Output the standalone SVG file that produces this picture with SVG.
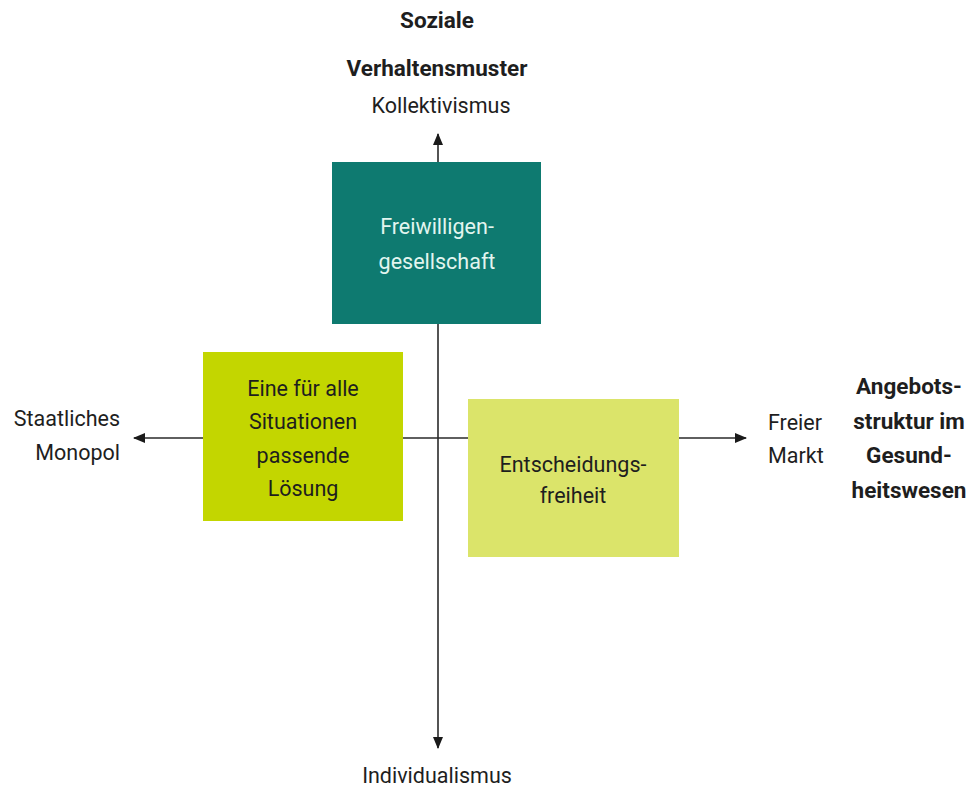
<svg xmlns="http://www.w3.org/2000/svg" width="967" height="787" viewBox="0 0 967 787">
<defs>
<marker id="ah" viewBox="0 0 12 10" refX="11" refY="5" markerWidth="12" markerHeight="10" markerUnits="userSpaceOnUse" orient="auto-start-reverse">
<path d="M0,0 L12,5 L0,10 z" fill="#1a1a1a"/>
</marker>
<style>
text{font-family:Roboto,"Liberation Sans",sans-serif;font-size:21.5px;fill:#1e1e1e}
.b{font-weight:bold;font-size:22.5px}
.m{text-anchor:middle}
.e{text-anchor:end}
.ax{stroke:#2a2a2a;stroke-width:1.6;fill:none}
</style>
</defs>
<rect width="967" height="787" fill="#ffffff"/>
<g id="connectors">
<line class="ax" x1="438" y1="134" x2="438" y2="748" marker-start="url(#ah)" marker-end="url(#ah)"/>
<line class="ax" x1="134" y1="438" x2="746" y2="438" marker-start="url(#ah)" marker-end="url(#ah)"/>
</g>
<g id="freiwilligen">
<rect x="332" y="162" width="209" height="162" fill="#0e7a70"/>
<text class="m" x="437" y="234" style="fill:#e2f5ef">Freiwilligen-</text>
<text class="m" x="437" y="269" style="fill:#e2f5ef">gesellschaft</text>
</g>
<g id="eine-fuer-alle">
<rect x="203" y="352" width="200" height="169" fill="#c3d600"/>
<text class="m" x="303" y="396">Eine für alle</text>
<text class="m" x="303" y="429">Situationen</text>
<text class="m" x="303" y="463">passende</text>
<text class="m" x="303" y="496">Lösung</text>
</g>
<g id="entscheidungsfreiheit">
<rect x="468" y="399" width="211" height="158" fill="#dbe46a"/>
<text class="m" x="573" y="472">Entscheidungs-</text>
<text class="m" x="573" y="503">freiheit</text>
</g>
<g id="labels">
<text class="m b" x="437" y="28">Soziale</text>
<text class="m b" x="437" y="76">Verhaltensmuster</text>
<text class="m" x="441" y="113">Kollektivismus</text>
<text class="m" x="437" y="783">Individualismus</text>
<text class="e" x="120" y="426">Staatliches</text>
<text class="e" x="120" y="460">Monopol</text>
<text x="768" y="430">Freier</text>
<text x="768" y="463">Markt</text>
<text class="m b" x="909" y="394">Angebots-</text>
<text class="m b" x="909" y="429">struktur im</text>
<text class="m b" x="909" y="463">Gesund-</text>
<text class="m b" x="909" y="498">heitswesen</text>
</g>
</svg>
